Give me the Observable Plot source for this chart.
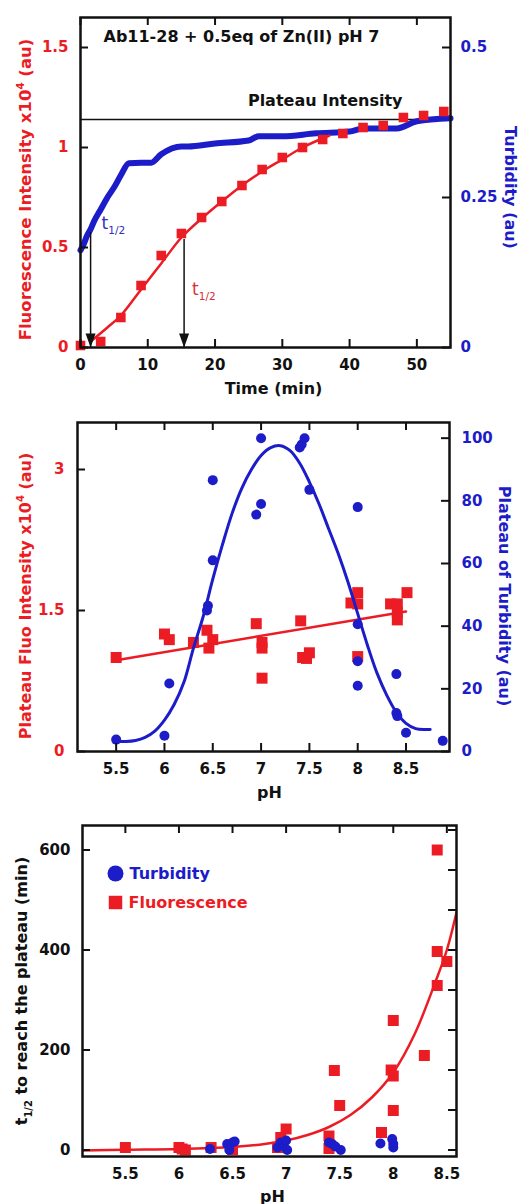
<!DOCTYPE html>
<html><head><meta charset="utf-8">
<script src="https://cdn.jsdelivr.net/npm/d3@7"></script>
<script src="https://cdn.jsdelivr.net/npm/@observablehq/plot@0.6"></script>
<style>
body{margin:0;background:#fff;}
#c svg{display:block;}
</style></head><body><div id="c"></div>
<script>
// ---------- Panel A : kinetics at pH 7 ----------
const titleA = "Ab11-28 + 0.5eq of Zn(II) pH 7";
const timeFluo = [0,3,6,9,12,15,18,21,24,27,30,33,36,39,42,45,48,51,54];
const fluo     = [0.01,0.03,0.15,0.31,0.46,0.57,0.65,0.73,0.81,0.89,0.95,1.0,1.04,1.07,1.1,1.11,1.15,1.16,1.18];
const fitTimeA = [1.5,4,6,9,12,15,18,21,24,27,30,33,37];
const fitFluoA = [0.03,0.10,0.16,0.29,0.42,0.55,0.645,0.73,0.81,0.88,0.94,1.0,1.06];
const timeTurb = [0,0.5,1,1.5,2,3,4,5,6,7.2,9,10.5,12,15,16,20,25,26.5,30,35,40,42,47,50,55];
const turb     = [0.162,0.173,0.187,0.197,0.21,0.23,0.25,0.267,0.287,0.307,0.308,0.308,0.322,0.335,0.335,0.34,0.345,0.352,0.352,0.357,0.36,0.365,0.365,0.377,0.382];
const plateauLevel = 1.14;
const halfTimes  = [1.5, 15.4];
const halfLevels = [0.575, 0.54];
const xTicksA = [0,10,20,30,40,50];
const yTicksA = [0,0.5,1,1.5];
const yTicksRightA = [0,0.25,0.5];

// ---------- Panel B : plateau vs pH ----------
const phFluoB = [5.5,6.0,6.05,6.3,6.44,6.46,6.5,6.95,7.01,7.01,7.01,7.41,7.43,7.47,7.5,7.93,8.0,8.0,8.0,8.34,8.41,8.41,8.41,8.51];
const fluoB   = [1.0,1.25,1.19,1.16,1.29,1.10,1.19,1.36,1.16,1.10,0.78,1.39,1.0,0.99,1.05,1.58,1.69,1.57,1.01,1.57,1.57,1.48,1.4,1.69];
const phLineB   = [5.5,8.5];
const fluoLineB = [0.97,1.49];
const phTurbB = [5.5,6.0,6.05,6.44,6.45,6.5,6.5,6.95,7.0,7.0,7.4,7.42,7.45,7.5,8.0,8.0,8.0,8.0,8.4,8.4,8.41,8.5,8.88];
const turbB   = [3.8,5,21.7,45,46.5,61,86.6,75.6,79,100,97,98,100,83.5,78,40.6,28.8,21,24.7,12.3,11.3,6,3.4];
const phFitB   = [5.5,5.6,5.7,5.8,5.9,6.0,6.1,6.2,6.3,6.4,6.5,6.6,6.7,6.8,6.9,7.0,7.1,7.2,7.3,7.4,7.5,7.6,7.7,7.8,7.9,8.0,8.1,8.2,8.3,8.4,8.5,8.6,8.7,8.75];
const turbFitB = [3.3,3.2,3.5,4.5,6.5,10,15,22,33,43,55,66,76,84,90,94.5,97,97.6,96,92,86,79,71,63,54,44,34,25,18,12.5,9,7.3,7,7];
const xTicksB = [5.5,6,6.5,7,7.5,8,8.5];
const yTicksB = [0,1.5,3];
const yTicksRightB = [0,20,40,60,80,100];

// ---------- Panel C : t1/2 vs pH ----------
const phFluoC = [5.5,6.0,6.03,6.06,6.3,6.5,6.92,6.95,7.0,7.4,7.4,7.45,7.5,7.89,7.98,8.0,8.0,8.0,8.29,8.41,8.41,8.41,8.5];
const fluoC   = [5,5,2,0,5,1,5,25,42,28,3,159,89,35,160,148,259,79,189,600,397,329,377];
const phTurbC = [6.29,6.45,6.47,6.5,6.52,6.92,6.95,6.98,7.0,7.01,7.4,7.43,7.46,7.51,7.88,7.99,8.0,8.0];
const turbC   = [2,12,0,15,17,5,15,8,19,0,15,12,7,0,13,22,12,5];
const phFitC = [5.1,5.5,6.0,6.5,6.8,7.0,7.2,7.4,7.6,7.8,8.0,8.2,8.4,8.5,8.59];
const fitC   = [-1,0.5,2,6,12,19,30,46,70,105,155,232,340,400,475];
const xTicksC = [5.5,6,6.5,7,7.5,8,8.5];
const yTicksC = [0,200,400,600];
const yTicksRightC = [0,80,160,240,320,400,480,560,640];
const legendC = ["Turbidity","Fluorescence"];

// ---------- styling ----------
const W = 529;
const RED = "#ec1c24", BLUE = "#1c1cc8", INK = "#111";
const STYLE = {fontFamily:"'DejaVu Sans', sans-serif", fontSize:"15px", fontWeight:"bold", background:"white", color:INK, overflow:"visible"};
const arrowHead = {draw(ctx){ ctx.moveTo(0,0); ctx.lineTo(-5,-14); ctx.lineTo(5,-14); ctx.closePath(); }};

function frameTicks({xt, xtTop, yl, yr, iw, ih, len=8, bottom=true}) {
  const o = {stroke:INK, strokeWidth:2};
  const m = [];
  if (bottom) m.push(Plot.tickX(xt, {x:d=>d, insetTop: ih-len, ...o}));
  m.push(Plot.tickX(xtTop, {x:d=>d, insetBottom: ih-len, ...o}));
  m.push(Plot.tickY(yl, {y:d=>d, insetRight: iw-len, ...o}));
  m.push(Plot.tickY(yr, {y:d=>d, insetLeft: iw-len, ...o}));
  return m;
}
function label(txt, opts) {
  return Plot.text([txt], {text:d=>d, fontSize:16, textAnchor:"middle", lineAnchor:"middle", ...opts});
}

function panelA(){
  const H=398, mt=17, mb=51, ml=80, mr=79, iw=W-ml-mr, ih=H-mt-mb, k=3;
  const fl = timeFluo.map((t,i)=>({t, v:fluo[i]}));
  const tb = timeTurb.map((t,i)=>({t, v:turb[i]*k}));
  const fit = fitTimeA.map((t,i)=>({t, v:fitFluoA[i]}));
  const arrows = halfTimes.map((t,i)=>({t, top:halfLevels[i], base:0}));
  const yr = yTicksRightA.map(v=>v*k);
  return Plot.plot({
    width:W, height:H, marginTop:mt, marginBottom:mb, marginLeft:ml, marginRight:mr,
    style:STYLE, x:{domain:[0,55]}, y:{domain:[0,1.65]},
    marks:[
      Plot.ruleY([plateauLevel], {stroke:INK, strokeWidth:1.5}),
      Plot.line(tb, {x:"t", y:"v", stroke:BLUE, strokeWidth:6, strokeLinejoin:"round", curve:"monotone-x"}),
      Plot.line(fit, {x:"t", y:"v", stroke:RED, strokeWidth:2.5, curve:"catmull-rom"}),
      Plot.ruleX(arrows, {x:"t", y1:"top", y2:"base", stroke:INK, strokeWidth:1.5}),
      Plot.dot(arrows, {x:"t", y:"base", symbol:arrowHead, fill:INK}),
      Plot.dot(fl, {x:"t", y:"v", symbol:"square", r:5.4, fill:RED}),
      Plot.frame({stroke:INK, strokeWidth:2.5}),
      ...frameTicks({xt:xTicksA, xtTop:xTicksA, yl:yTicksA, yr, iw, ih}),
      Plot.axisX(xTicksA, {anchor:"bottom", tickSize:0, tickPadding:12, tickFormat:d=>String(d), label:null, color:INK, fill:INK}),
      Plot.axisY(yTicksA, {anchor:"left", tickSize:0, tickPadding:12, tickFormat:d=>String(d), label:null, color:RED, fill:RED}),
      Plot.axisY(yr, {anchor:"right", tickSize:0, tickPadding:10, tickFormat:d=>String(+(d/k).toFixed(3)), label:null, color:BLUE, fill:BLUE}),
      label(titleA, {frameAnchor:"top-left", textAnchor:"start", dx:23, dy:19, fill:INK}),
      label("Plateau Intensity", {frameAnchor:"top-right", textAnchor:"end", dx:-48, dy:83, fill:INK}),
      Plot.text([arrows[0]], {x:"t", y:"base", text:()=>"t_{1/2}", textAnchor:"start", lineAnchor:"middle", dx:11, dy:-124, fill:"#3030b8", fontWeight:"normal", fontSize:17}),
      Plot.text([arrows[1]], {x:"t", y:"base", text:()=>"t_{1/2}", textAnchor:"start", lineAnchor:"middle", dx:8, dy:-58, fill:"#d8303a", fontWeight:"normal", fontSize:17}),
      label("Fluorescence Intensity x10^{4} (au)", {frameAnchor:"left", rotate:-90, dx:-55, dy:7, fill:RED, fontSize:16.5}),
      label("Turbidity (au)", {frameAnchor:"right", rotate:90, dx:60, dy:5, fill:BLUE}),
      label("Time (min)", {frameAnchor:"bottom", dx:8, dy:41, fill:INK})
    ]
  });
}

function panelB(){
  const H=402, mt=24, mb=49, ml=77, mr=80, iw=W-ml-mr, ih=H-mt-mb, k=3.5/105;
  const fl = phFluoB.map((p,i)=>({p, v:fluoB[i]}));
  const ln = phLineB.map((p,i)=>({p, v:fluoLineB[i]}));
  const tb = phTurbB.map((p,i)=>({p, v:turbB[i]*k}));
  const ft = phFitB.map((p,i)=>({p, v:turbFitB[i]*k}));
  const yr = yTicksRightB.map(v=>v*k);
  return Plot.plot({
    width:W, height:H, marginTop:mt, marginBottom:mb, marginLeft:ml, marginRight:mr,
    style:STYLE, x:{domain:[5.1,8.95]}, y:{domain:[0,3.5]},
    marks:[
      Plot.dot(fl, {x:"p", y:"v", symbol:"square", r:6.2, fill:RED}),
      Plot.line(ln, {x:"p", y:"v", stroke:RED, strokeWidth:2.5}),
      Plot.line(ft, {x:"p", y:"v", stroke:BLUE, strokeWidth:3, curve:"catmull-rom"}),
      Plot.dot(tb, {x:"p", y:"v", r:5, fill:BLUE}),
      Plot.frame({stroke:INK, strokeWidth:2.5}),
      ...frameTicks({xt:xTicksB, xtTop:xTicksB, yl:yTicksB, yr, iw, ih}),
      Plot.axisX(xTicksB, {anchor:"bottom", tickSize:0, tickPadding:12, tickFormat:d=>String(d), label:null, color:INK, fill:INK}),
      Plot.axisY(yTicksB, {anchor:"left", tickSize:0, tickPadding:13, tickFormat:d=>String(d), label:null, color:RED, fill:RED}),
      Plot.axisY(yr, {anchor:"right", tickSize:0, tickPadding:12, tickFormat:d=>String(Math.round(d/k)), label:null, color:BLUE, fill:BLUE}),
      label("Plateau Fluo Intensity x10^{4} (au)", {frameAnchor:"left", rotate:-90, dx:-52, dy:9, fill:RED}),
      label("Plateau of Turbidity (au)", {frameAnchor:"right", rotate:90, dx:55, dy:9, fill:BLUE}),
      label("pH", {frameAnchor:"bottom", dx:6, dy:41, fill:INK})
    ]
  });
}

function panelC(){
  const H=404, mt=25, mb=48, ml=82, mr=73, iw=W-ml-mr, ih=H-mt-mb;
  const fl = phFluoC.map((p,i)=>({p, v:fluoC[i]}));
  const tb = phTurbC.map((p,i)=>({p, v:turbC[i]}));
  const ft = phFitC.map((p,i)=>({p, v:fitC[i]}));
  return Plot.plot({
    width:W, height:H, marginTop:mt, marginBottom:mb, marginLeft:ml, marginRight:mr,
    style:STYLE, x:{domain:[5.1,8.59]}, y:{domain:[-13,649]},
    marks:[
      Plot.dot(fl, {x:"p", y:"v", symbol:"square", r:6.2, fill:RED}),
      Plot.line(ft, {x:"p", y:"v", stroke:RED, strokeWidth:2.5, curve:"catmull-rom", clip:true}),
      Plot.dot(tb, {x:"p", y:"v", r:5, fill:BLUE}),
      Plot.frame({stroke:INK, strokeWidth:2.5}),
      ...frameTicks({xt:xTicksC, xtTop:xTicksC, yl:yTicksC, yr:yTicksRightC, iw, ih, bottom:false}),
      Plot.axisX(xTicksC, {anchor:"bottom", tickSize:0, tickPadding:12, tickFormat:d=>String(d), label:null, color:INK, fill:INK}),
      Plot.axisY(yTicksC, {anchor:"left", tickSize:0, tickPadding:12, tickFormat:d=>String(d), label:null, color:INK, fill:INK}),
      Plot.dot([legendC[0]], {frameAnchor:"top-left", dx:33, dy:48, r:8, fill:BLUE}),
      Plot.text([legendC[0]], {frameAnchor:"top-left", text:d=>d, textAnchor:"start", lineAnchor:"middle", dx:47, dy:48, fill:BLUE, fontSize:16}),
      Plot.dot([legendC[1]], {frameAnchor:"top-left", dx:33, dy:77, symbol:"square", r:7.6, fill:RED}),
      Plot.text([legendC[1]], {frameAnchor:"top-left", text:d=>d, textAnchor:"start", lineAnchor:"middle", dx:46, dy:77, fill:RED, fontSize:16}),
      label("t_{1/2} to reach the plateau (min)", {frameAnchor:"left", rotate:-90, dx:-61, dy:0, fill:INK}),
      label("pH", {frameAnchor:"bottom", dx:3, dy:40, fill:INK})
    ]
  });
}

// sub/superscript rendering with tspans
function rich(svg){
  const NS = "http://www.w3.org/2000/svg";
  svg.querySelectorAll("text").forEach(t=>{
    const s = t.textContent;
    if (!/[_^]\{/.test(s)) return;
    while (t.firstChild) t.removeChild(t.firstChild);
    const add = (txt, dy, small) => {
      const ts = document.createElementNS(NS, "tspan");
      ts.textContent = txt;
      if (dy) ts.setAttribute("dy", dy);
      if (small) ts.setAttribute("font-size", small);
      t.appendChild(ts);
    };
    const re = /([_^])\{([^}]*)\}/g;
    let last = 0, m, shift = 0;
    while ((m = re.exec(s))) {
      if (m.index > last) { add(s.slice(last, m.index), -shift); shift = 0; }
      const d = m[1] === "_" ? 5 : -7;
      add(m[2], d - shift, "0.62em");
      shift = d;
      last = re.lastIndex;
    }
    if (last < s.length) add(s.slice(last), -shift);
  });
}

const c = document.getElementById("c");
for (const f of [panelA, panelB, panelC]) {
  const svg = f();
  rich(svg);
  c.appendChild(svg);
}
</script>
</body></html>
